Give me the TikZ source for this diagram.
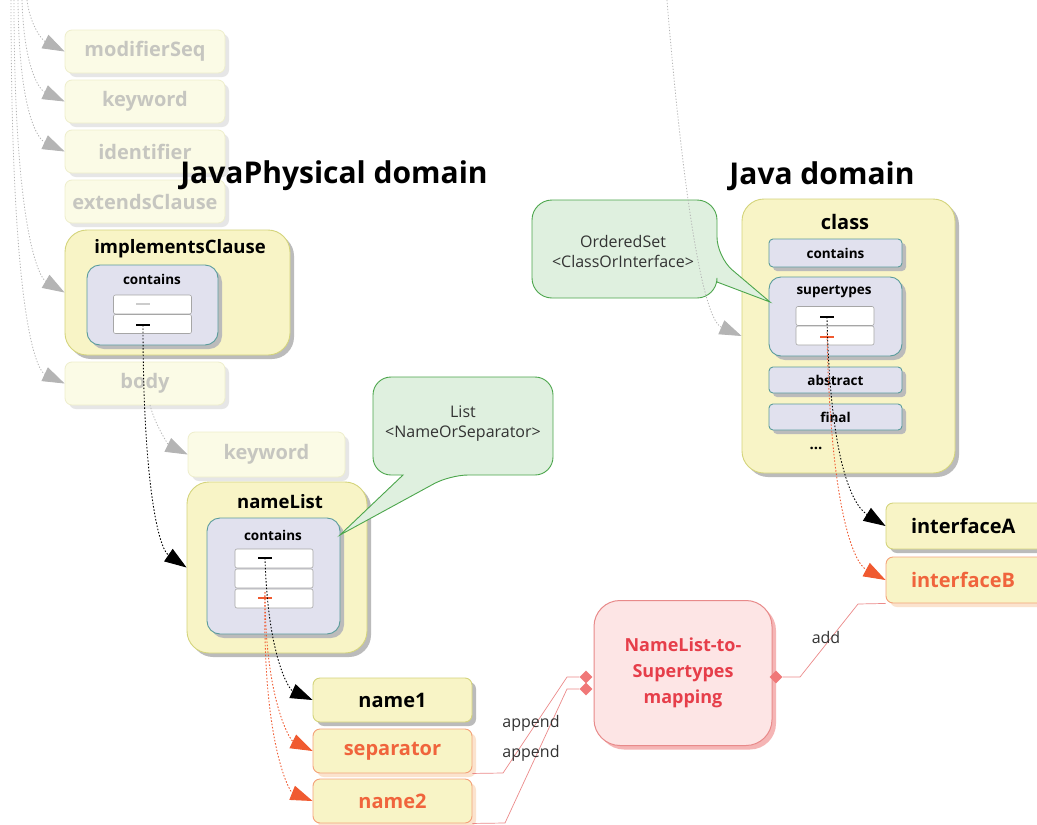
\documentclass[tikz,border=0pt]{standalone}
\usepackage{fontspec}
\setmainfont{Open Sans}
\usetikzlibrary{shadows,arrows.meta,shapes.geometric}
\definecolor{fadefill}{HTML}{FBFBE6}
\definecolor{fadedraw}{HTML}{EEEECC}
\definecolor{fadetext}{HTML}{C6C6C0}
\definecolor{fadeshadow}{HTML}{E6E6E6}
\definecolor{ylwfill}{HTML}{F8F4C6}
\definecolor{ylwdraw}{HTML}{D4D47C}
\definecolor{shadowgray}{HTML}{BBBBBB}
\definecolor{lavfill}{HTML}{E1E1EE}
\definecolor{lavdraw}{HTML}{5A9C9C}
\definecolor{orgtext}{HTML}{F0643C}
\definecolor{orgdraw}{HTML}{F4A27A}
\definecolor{orgshadow}{HTML}{FBE3CE}
\definecolor{mapfill}{HTML}{FDE5E5}
\definecolor{mapdraw}{HTML}{E88A8A}
\definecolor{maptext}{HTML}{E63E4A}
\definecolor{mapshadow}{HTML}{F5B5B5}
\definecolor{maplink}{HTML}{EC8A8A}
\definecolor{diafill}{HTML}{F07878}
\definecolor{greenfill}{HTML}{DFF0DF}
\definecolor{greendraw}{HTML}{4CA64C}
\definecolor{arrgray}{HTML}{B4B4B4}
\definecolor{arrred}{HTML}{F05A30}
\definecolor{labeltext}{HTML}{333333}
\tikzset{
  sh/.style={drop shadow={shadow xshift=4pt,shadow yshift=-4pt,fill=#1,opacity=1}},
  fadebox/.style={draw=fadedraw,fill=fadefill,rounded corners=7pt,line width=0.8pt,
    minimum width=160pt,minimum height=43pt,inner sep=0pt,text=fadetext,
    font=\bfseries\fontsize{20}{22}\selectfont,sh=fadeshadow},
  ybox/.style={draw=ylwdraw,fill=ylwfill,rounded corners=7pt,line width=0.9pt,
    minimum width=159pt,minimum height=44pt,inner sep=0pt,
    font=\bfseries\fontsize{20}{22}\selectfont,sh=shadowgray},
  obox/.style={draw=orgdraw,fill=ylwfill,rounded corners=7pt,line width=0.9pt,
    minimum width=159pt,minimum height=44pt,inner sep=0pt,text=orgtext,
    font=\bfseries\fontsize{20}{22}\selectfont,sh=orgshadow},
  bigbox/.style={draw=ylwdraw,fill=ylwfill,rounded corners=22pt,line width=0.9pt,
    inner sep=0pt,sh=shadowgray},
  lavbox/.style={draw=lavdraw,fill=lavfill,rounded corners=13pt,line width=0.9pt,
    inner sep=0pt,sh=shadowgray},
  lavsmall/.style={draw=lavdraw,fill=lavfill,rounded corners=4pt,line width=0.9pt,
    minimum width=133pt,minimum height=26pt,inner sep=0pt,
    font=\bfseries\fontsize{13.5}{15}\selectfont,sh=shadowgray},
  slot/.style={draw=gray!70,fill=white,rounded corners=2pt,line width=0.6pt,
    minimum width=78pt,minimum height=19pt,inner sep=0pt},
  boxlabel/.style={font=\bfseries\fontsize{18.5}{21}\selectfont,inner sep=0pt},
  smalllabel/.style={font=\bfseries\fontsize{13.5}{15}\selectfont,inner sep=0pt},
  title/.style={font=\bfseries\fontsize{30}{34}\selectfont,inner sep=0pt},
  calltext/.style={font=\fontsize{16}{20}\selectfont,text=labeltext,align=center,inner sep=0pt},
  linklabel/.style={font=\fontsize{16}{18}\selectfont,text=labeltext,inner sep=0pt},
  callout/.style={draw=greendraw,fill=greenfill,line width=0.9pt},
  mapbox/.style={draw=mapdraw,fill=mapfill,rounded corners=26pt,line width=1pt,
    inner sep=0pt,text=maptext,align=center,
    font=\bfseries\fontsize{18}{26}\selectfont,sh=mapshadow},
  dia/.style={diamond,fill=diafill,draw=none,minimum size=13pt,inner sep=0pt},
  maplinkstyle/.style={draw=maplink,line width=0.7pt},
  graydot/.style={draw=arrgray,line width=0.8pt,dash pattern=on 1.2pt off 1.8pt,
    -{Triangle[length=22pt,width=15pt,fill=arrgray]}},
  blackdot/.style={draw=black,line width=0.9pt,dash pattern=on 1.5pt off 1.8pt,
    -{Triangle[length=22pt,width=15pt]}},
  reddot/.style={draw=arrred,line width=0.9pt,dash pattern=on 1.5pt off 1.8pt,
    -{Triangle[length=22pt,width=15pt,fill=arrred]}},
  markbar/.style={line width=1.6pt},
}
\begin{document}
\begin{tikzpicture}[x=1pt,y=-1pt]
\useasboundingbox (0,0) rectangle (1037,825);
\fill[white] (0,0) rectangle (1037,825);

% ---------- faded boxes (JavaPhysical)
\node[fadebox] (mod) at (145,51.5) {modifierSeq};
\node[fadebox] (kw1) at (145,101.5) {keyword};
\node[fadebox] (ident) at (145,151.5) {identifier};
\node[fadebox] (ext) at (145,201.5) {extendsClause};
\node[fadebox] (body) at (145,383.5) {body};
\node[fadebox,minimum width=157pt,minimum height=45pt] (kw2) at (266.5,454.5) {keyword};

% ---------- implementsClause
\node[bigbox,minimum width=225pt,minimum height=125pt] (impl) at (177.5,292.5) {};
\node[boxlabel] (impllbl) at (180,249) {implementsClause};
\node[lavbox,minimum width=131pt,minimum height=80pt] (cont1) at (152.5,305) {};
\node[smalllabel] (cont1lbl) at (152,279) {contains};
\node[slot] (s11) at (152.5,304.5) {};
\node[slot] (s12) at (152.5,324) {};
\draw[markbar,draw=gray!40] (136,304) -- (150,304);
\draw[markbar] (136,325) -- (150,325);
\coordinate (m12) at (143,325);

% ---------- nameList
\node[bigbox,minimum width=180pt,minimum height=171pt] (nl) at (277,567.5) {};
\node[boxlabel] (nllbl) at (280,502) {nameList};
\node[lavbox,minimum width=133pt,minimum height=116pt] (cont2) at (273.5,576) {};
\node[smalllabel] (cont2lbl) at (273,535) {contains};
\node[slot] (s21) at (274,558.5) {};
\node[slot] (s22) at (274,578.5) {};
\node[slot] (s23) at (274,598.5) {};
\draw[markbar] (258,558) -- (272,558);
\draw[markbar,draw=arrred] (258,598) -- (272,598);
\coordinate (m21) at (265,558);
\coordinate (m23) at (265,592);

% ---------- name items
\node[ybox] (name1) at (392.5,700) {name1};
\node[obox] (sep) at (392.5,751) {separator};
\node[obox] (name2) at (392.5,801) {name2};

% ---------- class
\node[bigbox,minimum width=213pt,minimum height=274pt] (cls) at (848.5,336) {};
\node[boxlabel,font=\bfseries\fontsize{20}{22}\selectfont] (clslbl) at (845,222) {class};
\node[lavsmall,minimum height=28pt] (cont3) at (835.5,253) {contains};
\node[lavbox,minimum width=133pt,minimum height=79pt,rounded corners=12pt] (sup) at (835.5,316.5) {};
\node[smalllabel] (suplbl) at (834,292) {supertypes};
\node[slot] (s31) at (835,316) {};
\node[slot] (s32) at (835,335.5) {};
\draw[markbar] (820,317) -- (834,317);
\draw[markbar,draw=arrred] (820,337) -- (834,337);
\coordinate (m31) at (827,317);
\coordinate (m32) at (827,332);
\node[lavsmall] (abs) at (835.5,380) {abstract};
\node[lavsmall] (fin) at (835.5,417) {final};
\node[boxlabel,font=\bfseries\fontsize{15}{16}\selectfont] (dots) at (816,448) {...};

% ---------- interfaces
\node[ybox,minimum width=160pt,minimum height=46pt,text width=150pt,align=left] (ifA) at (966,526) {\hspace*{20pt}interfaceA};
\node[obox,minimum width=160pt,minimum height=46pt,text width=150pt,align=left] (ifB) at (966,580) {\hspace*{20pt}interfaceB};

% ---------- mapping
\node[mapbox,minimum width=178pt,minimum height=145pt] (map) at (683,673) {NameList-to-\\Supertypes\\mapping};
\node[dia] (d1) at (586,677) {};
\node[dia] (d2) at (586,689) {};
\node[dia] (d3) at (776,677) {};

% ---------- callouts
\path[callout,rounded corners=18pt] (373,377) -- (553,377) -- (553,475) -- (450,475) [sharp corners] -- (340,535) -- (403,475) [rounded corners=18pt] -- (373,475) -- cycle;
\node[calltext] (listtxt) at (463,424) {List\\<NameOrSeparator>};
\path[callout,rounded corners=20pt] (532,200) -- (717,200) -- (717,257) [sharp corners] -- (770,302) -- (717,282) [rounded corners=20pt] -- (717,298) -- (532,298) -- cycle;
\node[calltext] (ostxt) at (623,251) {OrderedSet\\<ClassOrInterface>};

% ---------- titles
\node[title] (tphys) at (334,176) {JavaPhysical domain};
\node[title] (tjava) at (822,176) {Java domain};

% ---------- gray dotted arrows
\draw[graydot] (27,0) .. controls (30,25) and (42,40) .. (mod.west);
\draw[graydot] (22,0) .. controls (24,70) and (40,90) .. (kw1.west);
\draw[graydot] (18,0) .. controls (19,120) and (40,140) .. (ident.west);
\draw[graydot] (14,0) .. controls (14,235) and (40,278) .. (impl.west);
\draw[graydot] (11,0) .. controls (11,340) and (40,372) .. (body.west);
\draw[graydot] (150,405) .. controls (156,428) and (170,446) .. (kw2.west);
\draw[graydot] (667,0) .. controls (680,160) and (700,318) .. (cls.west);

% ---------- contains arrows
\draw[blackdot] (m12) .. controls (143,480) and (158,548) .. (nl.west);
\draw[blackdot] (m21) .. controls (268,660) and (290,690) .. (name1.west);
\draw[reddot] (m23) .. controls (265,700) and (290,740) .. (sep.west);
\draw[reddot] (m23) .. controls (262,745) and (290,792) .. (name2.west);
\draw[blackdot] (m31) .. controls (830,460) and (852,505) .. (ifA.west);
\draw[reddot] (m32) .. controls (830,500) and (852,562) .. (ifB.west);

% ---------- mapping links
\draw[maplinkstyle] (sep.south east) -- (503,773) -- (567,677) -- (d1);
\draw[maplinkstyle] (name2.south east) -- (505,823) -- (567,689) -- (d2);
\draw[maplinkstyle] (d3) -- (800,677) -- (858,604) -- (ifB.south west);
\node[linklabel] (ap1) at (531,723) {append};
\node[linklabel] (ap2) at (531,753) {append};
\node[linklabel] (addl) at (826,637) {add};
\end{tikzpicture}
\end{document}
